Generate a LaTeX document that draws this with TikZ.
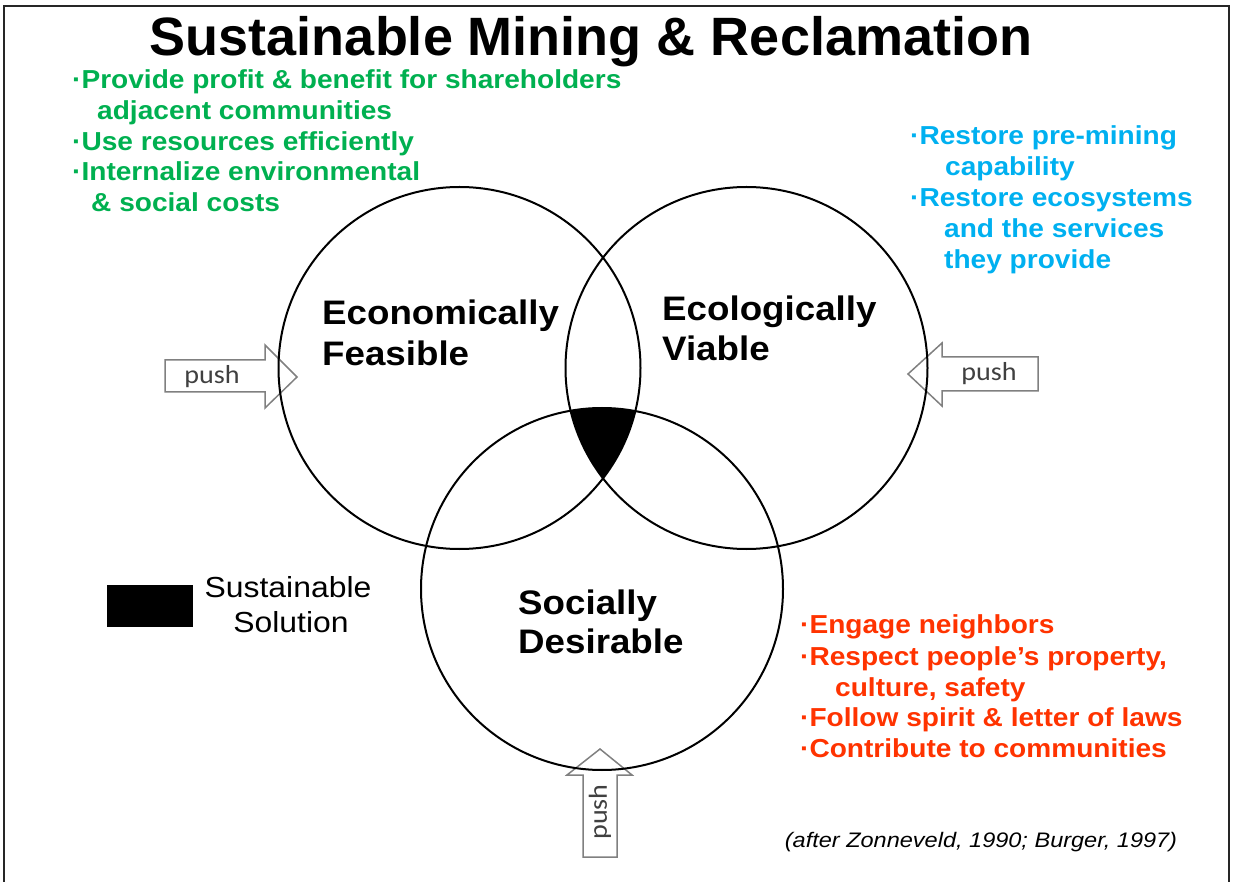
\documentclass[tikz,border=0pt]{standalone}
\usepackage{fontspec}
\usepackage{graphicx}
\setmainfont{Liberation Sans}
\newfontfamily\pushfont{Carlito}
\definecolor{pgreen}{RGB}{0,176,80}
\definecolor{pblue}{RGB}{0,176,240}
\definecolor{pred}{RGB}{255,51,0}
\definecolor{agray}{RGB}{128,128,128}
\newcommand\hs[1]{\scalebox{1.08}[1]{#1}}
\tikzset{
  vcirc/.style={circle, draw=black, line width=2pt, minimum size=362pt, inner sep=0pt},
  listtext/.style={anchor=base west, inner sep=0pt, font=\fontsize{26}{26}\selectfont\bfseries},
  gtext/.style={listtext, text=pgreen},
  btext/.style={listtext, text=pblue},
  rtext/.style={listtext, text=pred},
  clabel/.style={anchor=base west, inner sep=0pt, font=\fontsize{34}{34}\selectfont\bfseries},
  pushbox/.style={draw=agray, line width=1.5pt, line join=miter},
  pushtext/.style={inner sep=0pt, text=black!75, font=\fontsize{26}{26}\pushfont},
  keytext/.style={anchor=base, inner sep=0pt, font=\fontsize{29}{29}\selectfont},
}
\begin{document}
\begin{tikzpicture}[x=1pt,y=-1pt]
\useasboundingbox (0,0) rectangle (1235,882);
% frame
\draw[line width=2pt, black!85] (4,882) -- (4,6) -- (1229,6) -- (1229,882);
% title
\node[anchor=base, inner sep=0pt, font=\fontsize{54}{54}\selectfont\bfseries] (title) at (591,56) {Sustainable Mining \& Reclamation};
% green list
\node[gtext] (g1) at (72,89) {\hs{·Provide profit \& benefit for shareholders}};
\node[gtext] (g2) at (97,120) {\hs{adjacent communities}};
\node[gtext] (g3) at (72,151) {\hs{·Use resources efficiently}};
\node[gtext] (g4) at (72,181) {\hs{·Internalize environmental}};
\node[gtext] (g5) at (91,212) {\hs{\& social costs}};
% blue list
\node[btext] (b1) at (910,145) {\hs{·Restore pre-mining}};
\node[btext] (b2) at (945,176) {\hs{capability}};
\node[btext] (b3) at (910,207) {\hs{·Restore ecosystems}};
\node[btext] (b4) at (944,238) {\hs{and the services}};
\node[btext] (b5) at (944,269) {\hs{they provide}};
% red list
\node[rtext] (r1) at (800,633) {\hs{·Engage neighbors}};
\node[rtext] (r2) at (800,665) {\hs{·Respect people’s property,}};
\node[rtext] (r3) at (835,696) {\hs{culture, safety}};
\node[rtext] (r4) at (800,726) {\hs{·Follow spirit \& letter of laws}};
\node[rtext] (r5) at (800,757) {\hs{·Contribute to communities}};
% push arrows
\draw[pushbox] (165,360) -- (265,360) -- (265,345) -- (297,377) -- (265,408) -- (265,392) -- (165,392) -- cycle;
\node[pushtext] (pushl) at (212,377) {\hs{push}};
\draw[pushbox] (1038,357) -- (942,357) -- (942,343) -- (908,374) -- (942,406) -- (942,391) -- (1038,391) -- cycle;
\node[pushtext] (pushr) at (989,374) {\hs{push}};
\draw[pushbox] (583,857) -- (583,775) -- (567,775) -- (600,749) -- (632,775) -- (617,775) -- (617,857) -- cycle;
\node[pushtext, rotate=90] (pushb) at (600,812) {\hs{push}};
% sustainable intersection
\begin{scope}
  \clip (459.5,368) circle (181);
  \clip (746.5,368) circle (181);
  \fill[black] (602,589) circle (181);
\end{scope}
% circles
\node[vcirc] (econ) at (459.5,368) {};
\node[vcirc] (ecol) at (746.5,368) {};
\node[vcirc] (soc) at (602,589) {};
% circle labels
\node[clabel] (econ1) at (322,325) {\hs{Economically}};
\node[clabel] (econ2) at (322,366) {\hs{Feasible}};
\node[clabel] (ecol1) at (662,321) {\hs{Ecologically}};
\node[clabel] (ecol2) at (662,361) {\hs{Viable}};
\node[clabel] (soc1) at (518,614) {\hs{Socially}};
\node[clabel] (soc2) at (518,653) {\hs{Desirable}};
% legend
\node[fill=black, draw=black, minimum width=85pt, minimum height=41pt, inner sep=0pt] (key) at (149.5,605.5) {};
\node[keytext] (key1) at (288,597) {\scalebox{1.1}[1]{Sustainable}};
\node[keytext] (key2) at (291,632) {\scalebox{1.1}[1]{Solution}};
% citation
\node[anchor=base, inner sep=0pt, font=\fontsize{21}{21}\selectfont\itshape] (cite) at (981,847) {\scalebox{1.12}[1]{(after Zonneveld, 1990; Burger, 1997)}};
\end{tikzpicture}
\end{document}
